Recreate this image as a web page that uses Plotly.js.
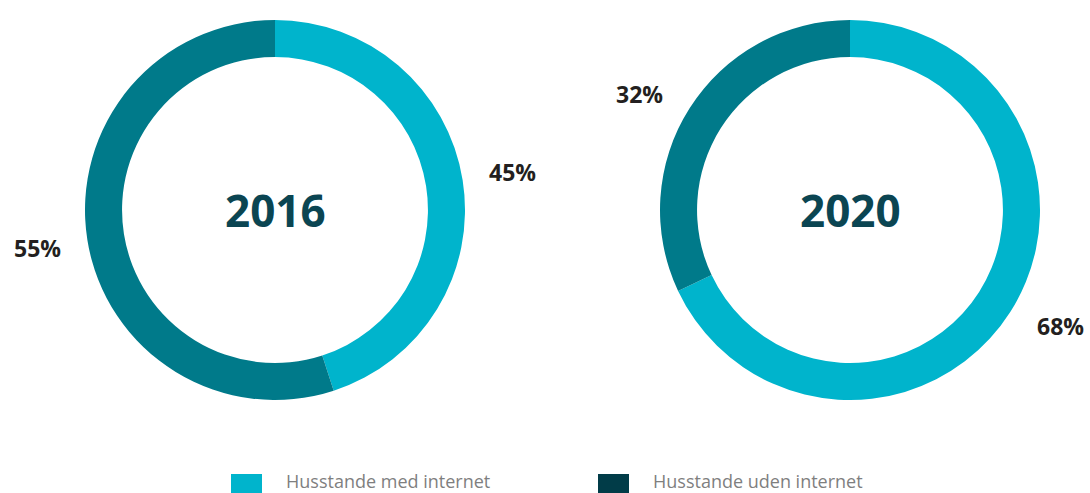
<!DOCTYPE html>
<html>
<head>
<meta charset="utf-8">
<script src="https://cdn.plot.ly/plotly-3.0.1.min.js"></script>
<style>html,body{margin:0;padding:0;background:#fff;}#chart{width:1090px;height:493px;}</style>
</head>
<body>
<div id="chart"></div>
<script>
const categories = ["Husstande med internet", "Husstande uden internet"];
const years = ["2016", "2020"];
const values2016 = [45, 55];
const values2020 = [68, 32];

const sliceColors = ["#00B4CC", "#007A8A"];
const legendColors = ["#00B4CC", "#013C48"];

const W = 1090, H = 493;
const pies = [
  {year: years[0], values: values2016, cx: 275, cy: 210, labelShift: 0},
  {year: years[1], values: values2020, cx: 850, cy: 210, labelShift: -3.5}
];
const R = 190;

const data = pies.map(p => ({
  type: "pie",
  labels: categories,
  values: p.values,
  sort: false,
  direction: "clockwise",
  rotation: 0,
  hole: 0.805,
  domain: {x: [(p.cx - R) / W, (p.cx + R) / W], y: [(H - p.cy - R) / H, (H - p.cy + R) / H]},
  marker: {colors: sliceColors, line: {width: 0}},
  textinfo: "none",
  showlegend: false,
  hoverinfo: "label+percent"
}));

const annotations = [];
const labelR = 240;
pies.forEach(p => {
  annotations.push({text: "<b>" + p.year + "</b>", x: p.cx / W, y: (H - p.cy) / H,
    xref: "paper", yref: "paper", xanchor: "center", yanchor: "middle", showarrow: false,
    font: {family: "Open Sans, sans-serif", size: 44, color: "#0B4552"}});
  const total = p.values.reduce((a, b) => a + b, 0);
  let cum = 0;
  p.values.forEach(v => {
    const mid = (cum + v / 2) / total * 2 * Math.PI + p.labelShift * Math.PI / 180;
    cum += v;
    const lx = p.cx + labelR * Math.sin(mid);
    const ly = p.cy - labelR * Math.cos(mid);
    annotations.push({text: "<b>" + v + "%</b>", x: lx / W, y: (H - ly) / H,
      xref: "paper", yref: "paper", xanchor: "center", yanchor: "middle", showarrow: false,
      font: {family: "Open Sans, sans-serif", size: 23, color: "#231F20"}});
  });
});

const shapes = [];
const legX = [231, 598];
const legTextX = [284, 651];
categories.forEach((c, i) => {
  shapes.push({type: "rect", xref: "paper", yref: "paper",
    x0: legX[i] / W, x1: (legX[i] + 31) / W, y0: 0, y1: (H - 474) / H,
    fillcolor: legendColors[i], line: {width: 0}});
  annotations.push({text: c, xref: "paper", yref: "paper", x: legTextX[i] / W, y: (H - 481) / H,
    xanchor: "left", yanchor: "middle", showarrow: false,
    font: {family: "Open Sans, sans-serif", size: 18, color: "#7F7F7F"}});
});

const layout = {
  width: W, height: H,
  margin: {l: 0, r: 0, t: 0, b: 0},
  paper_bgcolor: "#fff",
  showlegend: false,
  annotations: annotations,
  shapes: shapes
};
Plotly.newPlot("chart", data, layout, {displayModeBar: false, staticPlot: true});
</script>
</body>
</html>
